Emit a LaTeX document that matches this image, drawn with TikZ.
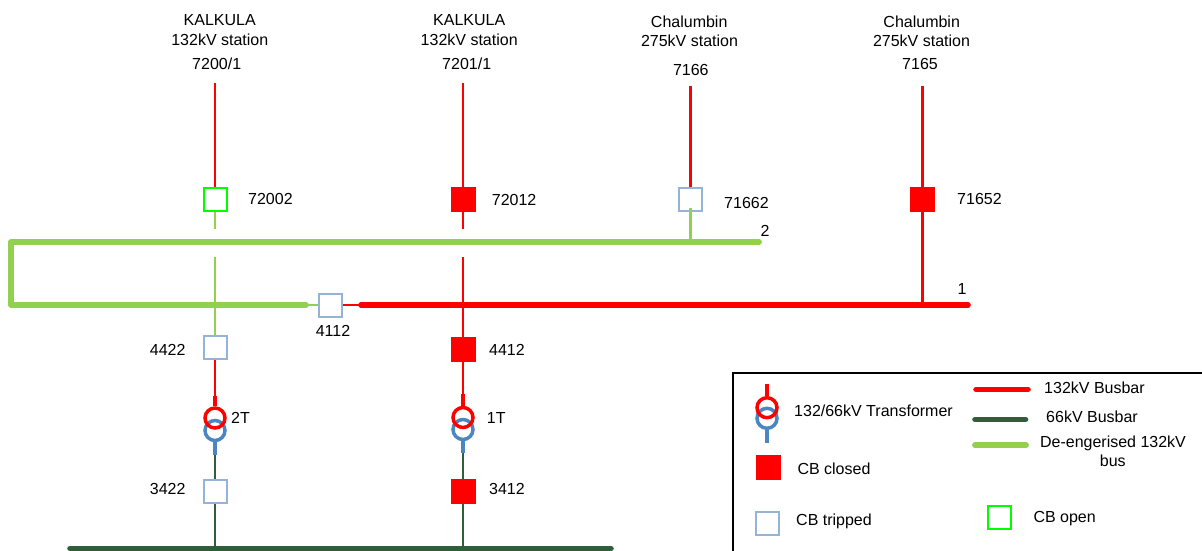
\documentclass[tikz,border=0pt]{standalone}
\usepackage{fontspec}
\setmainfont{Liberation Sans}
\definecolor{lgreen}{HTML}{92D050}
\definecolor{opengreen}{HTML}{00FF00}
\definecolor{tripblue}{HTML}{95B3D7}
\definecolor{tblue}{HTML}{4A86C0}
\definecolor{dgreen}{HTML}{2E5E3A}
\begin{document}
\begin{tikzpicture}[x=1pt,y=-1pt,
  txt/.style={font=\fontsize{16}{19}\selectfont, inner sep=0pt, text=black},
  cb/.style={rectangle, minimum size=23pt, inner sep=0pt, line width=2pt},
  cbclosed/.style={cb, draw=red, fill=red},
  cbtripped/.style={cb, draw=tripblue, fill=white},
  cbopen/.style={cb, draw=opengreen, fill=white},
  feedR/.style={draw=red, line width=2.2pt},
  feedG/.style={draw=lgreen, line width=2.2pt},
  feedD/.style={draw=dgreen, line width=2.2pt},
  busR/.style={draw=red, line width=5.6pt, line cap=round},
  busG/.style={draw=lgreen, line width=5.8pt, line cap=round, line join=round},
  busD/.style={draw=dgreen, line width=5.6pt, line cap=round},
  xfR/.style={circle, draw=red, line width=3.5pt, minimum size=20pt, inner sep=0pt},
  xfB/.style={circle, draw=tblue, line width=3.5pt, minimum size=20pt, inner sep=0pt},
  stubR/.style={draw=red, line width=4.5pt},
  stubB/.style={draw=tblue, line width=4.5pt},
  legbox/.style={draw=black, line width=1.8pt}]
\useasboundingbox (0,0) rectangle (1202,551);

% ---- top station labels
\node[txt, anchor=base] (k1a) at (219.7,25.5) {KALKULA};
\node[txt, anchor=base] (k1b) at (219.8,46) {132kV station};
\node[txt, anchor=base] (k1c) at (216.7,69.5) {7200/1};
\node[txt, anchor=base] (k2a) at (469.2,25.5) {KALKULA};
\node[txt, anchor=base] (k2b) at (469.2,46) {132kV station};
\node[txt, anchor=base] (k2c) at (466.7,69.5) {7201/1};
\node[txt, anchor=base] (c3a) at (689.2,28) {Chalumbin};
\node[txt, anchor=base] (c3b) at (689.5,46.5) {275kV station};
\node[txt, anchor=base] (c3c) at (690.8,75) {7166};
\node[txt, anchor=base] (c4a) at (921.7,28) {Chalumbin};
\node[txt, anchor=base] (c4b) at (921.5,46.5) {275kV station};
\node[txt, anchor=base] (c4c) at (920,70) {7165};

% ---- circuit breakers
\node[cbopen]    (q72002) at (215,199.5) {};
\node[cbclosed]  (q72012) at (463,199.5) {};
\node[cbtripped] (q71662) at (690.5,199.5) {};
\node[cbclosed]  (q71652) at (922.5,199) {};
\node[cbtripped] (q4112)  at (330,305) {};
\node[cbtripped] (q4422)  at (215,347) {};
\node[cbclosed]  (q4412)  at (463,349.5) {};
\node[cbtripped] (q3422)  at (215,491) {};
\node[cbclosed]  (q3412)  at (463,491) {};

% ---- CB labels
\node[txt, anchor=base west] (l72002) at (248,204.5) {72002};
\node[txt, anchor=base west] (l72012) at (491.7,205) {72012};
\node[txt, anchor=base west] (l71662) at (724,208) {71662};
\node[txt, anchor=base west] (l71652) at (957,204) {71652};
\node[txt, anchor=base] (l4112) at (333,336.7) {4112};
\node[txt, anchor=base east] (l4422) at (185.7,355.7) {4422};
\node[txt, anchor=base west] (l4412) at (489,355) {4412};
\node[txt, anchor=base east] (l3422) at (185.7,494) {3422};
\node[txt, anchor=base west] (l3412) at (489,494) {3412};
\node[txt, anchor=base] (lbus2) at (765,236) {2};
\node[txt, anchor=base] (lbus1) at (962,294) {1};

% ---- coordinates
\coordinate (f1top) at (215,83);
\coordinate (f2top) at (463,83);
\coordinate (f3top) at (690.5,86);
\coordinate (f4top) at (922.5,86);
\coordinate (b2R) at (759,242);
\coordinate (b2L) at (11,242);
\coordinate (b1L) at (11,305);
\coordinate (b1g) at (306,305);
\coordinate (b1r) at (361,305);
\coordinate (b1R) at (968,305);
\coordinate (c1a) at (215,229);
\coordinate (c1b) at (215,257);
\coordinate (c2a) at (463,229);
\coordinate (c2b) at (463,257);
\coordinate (c3bus) at (690.5,242);
\coordinate (c4bus) at (922.5,305);
\coordinate (c1s) at (215,396);
\coordinate (c2s) at (463,394);
\coordinate (c1u) at (215,455);
\coordinate (c2u) at (463,453);
\coordinate (c1bus) at (215,548.5);
\coordinate (c2bus) at (463,548.5);
\coordinate (b66L) at (70,548.5);
\coordinate (b66R) at (611,548.5);

% ---- buses
\draw[busG] (b2R) -- (b2L) -- (b1L) -- (b1g);
\draw[feedG] (b1g) -- (q4112.west);
\draw[feedR] (q4112.east) -- (b1r);
\draw[busR] (b1r) -- (b1R);

% ---- feeders
\draw[feedR] (f1top) -- (q72002.north);
\draw[feedG] (q72002.south) -- (c1a);
\draw[feedG] (c1b) -- (q4422.north);
\draw[feedR] (q4422.south) -- (c1s);

\draw[feedR] (f2top) -- (q72012.north);
\draw[feedR] (q72012.south) -- (c2a);
\draw[feedR] (c2b) -- (q4412.north);
\draw[feedR] (q4412.south) -- (c2s);

\draw[feedR] (f3top) -- (q71662.north);
\draw[feedG] ([yshift=4pt]q71662.south) -- (c3bus);

\draw[feedR] (f4top) -- (q71652.north);
\draw[feedR] (q71652.south) -- (c4bus);

% ---- transformers
\node[xfB] (t2b) at (215,430.5) {};
\node[xfR] (t2r) at (215,418) {};
\node[xfB] (t1b) at (463,429.5) {};
\node[xfR] (t1r) at (463,417.5) {};
\node[txt, anchor=base west] (l2T) at (231,423.3) {2T};
\node[txt, anchor=base west] (l1T) at (486.7,423.3) {1T};
\draw[stubR] (c1s) -- (t2r.north);
\draw[stubB] (t2b.south) -- (c1u);
\draw[stubR] (c2s) -- (t1r.north);
\draw[stubB] (t1b.south) -- (c2u);
\draw[feedD] (c1u) -- (q3422.north);
\draw[feedD] (q3422.south) -- (c1bus);
\draw[feedD] (c2u) -- (q3412.north);
\draw[feedD] (q3412.south) -- (c2bus);

% ---- 66kV bus
\draw[busD] (b66L) -- (b66R);

% ---- legend
\coordinate (lgA) at (733,570);
\coordinate (lgB) at (733,373);
\coordinate (lgC) at (1215,373);
\draw[legbox] (lgA) -- (lgB) -- (lgC);

\coordinate (lts) at (767,384);
\coordinate (ltu) at (767,442.7);
\node[xfB] (ltb) at (767,418.3) {};
\node[xfR] (ltr) at (767,407.7) {};
\draw[stubR] (lts) -- (ltr.north);
\draw[stubB] (ltb.south) -- (ltu);
\node[txt, anchor=base west] (ltx) at (794,416.7) {132/66kV Transformer};

\node[cbclosed] (lqc) at (768,467.8) {};
\node[txt, anchor=base west] (lqcx) at (797.3,474) {CB closed};
\node[cbtripped] (lqt) at (767,523.3) {};
\node[txt, anchor=base west] (lqtx) at (796,525) {CB tripped};
\node[cbopen] (lqo) at (999.7,517.8) {};
\node[txt, anchor=base west] (lqox) at (1033.3,522.3) {CB open};

\coordinate (lr1) at (976,389.5);
\coordinate (lr2) at (1028,389.5);
\coordinate (ld1) at (975,419.5);
\coordinate (ld2) at (1025.5,419.5);
\coordinate (lg1) at (975,445.3);
\coordinate (lg2) at (1026,445.3);
\draw[busR] (lr1) -- (lr2);
\draw[busD] (ld1) -- (ld2);
\draw[busG] (lg1) -- (lg2);
\node[txt, anchor=base west] (lrx) at (1044,393.3) {132kV Busbar};
\node[txt, anchor=base west] (ldx) at (1046,422.7) {66kV Busbar};
\node[txt, anchor=base] (lgx1) at (1113,447.3) {De-engerised 132kV};
\node[txt, anchor=base] (lgx2) at (1112.8,466) {bus};
\end{tikzpicture}
\end{document}
